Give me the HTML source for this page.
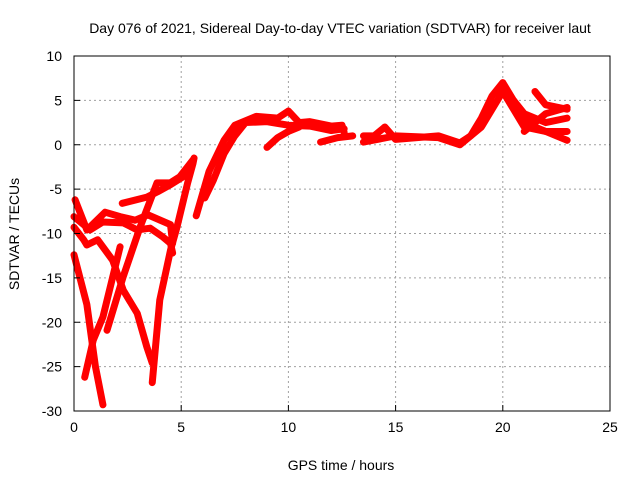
<!DOCTYPE html>
<html><head><meta charset="utf-8"><style>
body{margin:0;background:#fff}
svg{display:block;font-family:"Liberation Sans",sans-serif}
</style></head><body>
<svg id="c" width="640" height="480">
<text x="340" y="33" text-anchor="middle" font-size="14">Day 076 of 2021, Sidereal Day-to-day VTEC variation (SDTVAR) for receiver laut</text>
<text x="341" y="470" text-anchor="middle" font-size="14">GPS time / hours</text>
<text transform="translate(19,234) rotate(-90)" text-anchor="middle" font-size="14">SDTVAR / TECUs</text>
<g id="grid"></g><g id="series"></g><g id="axes"></g>
</svg>
<script>
const xTicks=[0,5,10,15,20,25];
const yTicks=[10,5,0,-5,-10,-15,-20,-25,-30];
const t1=[[0,-12.4],[0.6,-18],[1,-25],[1.35,-29.3]];
const t2=[[0.5,-26.2],[0.9,-22],[1.35,-19.4],[2.15,-11.5]];
const t3=[[1.54,-20.9],[2.29,-14.9],[3.08,-9.3],[3.87,-4.3],[4.48,-4.3],[4.94,-3.6],[5.55,-1.7]];
const t4=[[0.05,-6.2],[0.6,-9.6],[1.45,-7.6],[2.15,-8.1],[2.85,-8.5],[3.45,-7.9],[4.5,-9.0],[4.6,-11.1]];
const t4b=[[2.25,-6.6],[3.4,-5.9],[3.9,-5.3],[4.5,-4.5],[5.1,-3.6],[5.5,-2.1]];
const t5=[[0,-9.3],[0.45,-10.7],[0.6,-11.3],[1.1,-10.7],[1.8,-13.0],[2.3,-16.4],[2.95,-19.0],[3.4,-22.8],[3.65,-24.6]];
const t6=[[3.65,-26.8],[4.0,-17.5],[4.5,-11.9],[4.8,-9.3],[5.3,-4.3],[5.55,-2.1],[5.6,-1.5]];
const t7=[[0,-8.1],[0.75,-9.6],[1.35,-8.7],[2.3,-8.8],[2.95,-9.6],[3.55,-9.4],[4.15,-10.4],[4.5,-11.1],[4.6,-12.2]];
const t8=[[5.7,-8],[6.3,-3],[7.0,0.5],[7.5,2.2],[8.5,3.2],[9.5,3],[10,3.8],[10.5,2.5],[11,2.6],[12,2.1],[12.5,2.2],[12.6,1.4]];
const t9=[[6.1,-6],[6.5,-4],[7,-1],[7.5,1],[8,2.5],[9,2.6],[10,2.2],[11,2.1],[12,1.6],[12.6,1.8]];
const t10=[[9,-0.3],[9.5,0.8],[10,1.5],[10.5,2]];
const t10b=[[11.5,0.3],[12.3,0.8],[13,1]];
const t11=[[13.5,1],[14,1],[14.5,2],[15,0.6],[16,0.8],[17,1],[18,0.2],[18.5,1],[19,3],[19.5,5.5],[20,7],[20.5,5],[21,3],[21.5,2],[22,1.5],[23,0.5]];
const t12=[[13.5,0.3],[15,1],[17,0.8],[18,0],[19,2],[20,6],[20.5,4],[21,2],[22,1.5],[23,1.5]];
const t13=[[20.5,5],[21,3.5],[22,2.5],[23,3]];
const t14=[[21.5,6],[22,4.5],[23,4]];
const t15=[[21,1.5],[22,3.5],[23,4.2]];
const allSeries=[t1,t2,t3,t4,t4b,t5,t6,t7,t8,t9,t10,t10b,t11,t12,t13,t14,t15];
const L=74,R=610,T=56,B=411;
const X=v=>L+(v-0)/25*(R-L);
const Y=v=>T+(10-v)/40*(B-T);
const NS="http://www.w3.org/2000/svg";
const grid=document.getElementById('grid'),axes=document.getElementById('axes'),ser=document.getElementById('series');
function mk(tag,attrs,parent){const e=document.createElementNS(NS,tag);for(const k in attrs)e.setAttribute(k,attrs[k]);parent.appendChild(e);return e;}
xTicks.forEach(v=>{
 if(v>0&&v<25){const g=mk('line',{x1:X(v),x2:X(v),y1:T,y2:B,stroke:'#a0a0a0','stroke-dasharray':'2,3'},grid);
 
 }
 const tk=mk('line',{x1:X(v),x2:X(v),y1:B,y2:B-6,stroke:'#000'},axes);
 
 
 const t=mk('text',{x:X(v),y:B+21,'text-anchor':'middle','font-size':14},axes);t.textContent=v;
 
 
});
yTicks.forEach(v=>{
 if(v<10&&v>-30){const g=mk('line',{x1:L,x2:R,y1:Y(v),y2:Y(v),stroke:'#a0a0a0','stroke-dasharray':'2,3'},grid);
 
 }
 const tk=mk('line',{x1:L,x2:L+6,y1:Y(v),y2:Y(v),stroke:'#000'},axes);
 
 
 const t=mk('text',{x:L-12,y:Y(v)+5,'text-anchor':'end','font-size':14},axes);t.textContent=v;
 
 
});
const fr=mk('rect',{x:L,y:T,width:R-L,height:B-T,fill:'none',stroke:'#000'},axes);


allSeries.forEach(s=>{
 const p=mk('polyline',{points:s.map(d=>X(d[0])+','+Y(d[1])).join(' '),fill:'none',stroke:'#ff0000','stroke-width':7,'stroke-linejoin':'round','stroke-linecap':'round'},ser);
 
 
});
</script>
</body></html>
